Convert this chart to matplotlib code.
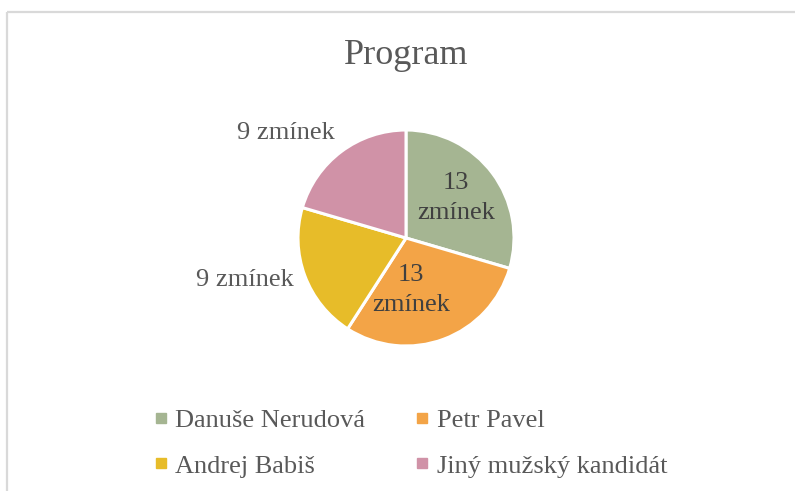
import numpy as np
import matplotlib
matplotlib.use("Agg")
import matplotlib.pyplot as plt
from matplotlib.lines import Line2D

# data
candidates = ["Danuše Nerudová", "Petr Pavel", "Andrej Babiš", "Jiný mužský kandidát"]
mentions = [13, 13, 9, 9]
labels = ["13\nzmínek", "13\nzmínek", "9 zmínek", "9 zmínek"]
colors = ["#A5B592", "#F3A447", "#E7BC29", "#D092A7"]

# label positions in pixels (x, y from top), like Excel's best fit
label_pos = [(456, 198), (411, 290), (245, 280), (286, 133)]
label_col = ["#404040", "#404040", "#595959", "#595959"]

W, H = 795, 491
plt.rcParams["font.family"] = ["Liberation Serif", "DejaVu Serif"]

fig = plt.figure(figsize=(W / 100, H / 100), dpi=100)
ax = fig.add_axes([0, 0, 1, 1])

wedges, _ = ax.pie(mentions, colors=colors, startangle=90, counterclock=False,
                   center=(406, H - 238), radius=108, frame=True,
                   wedgeprops=dict(edgecolor="white", linewidth=2.2))
ax.set_xlim(0, W)
ax.set_ylim(0, H)
ax.set_aspect("equal")
ax.axis("off")

# chart border (top and left visible)
ax.plot([7, W], [H - 11.5, H - 11.5], color="#D9D9D9", lw=1.6, solid_capstyle="butt")
ax.plot([7, 7], [H - 11.5, 0], color="#D9D9D9", lw=1.6, solid_capstyle="butt")

for lab, (x, y), c in zip(labels, label_pos, label_col):
    ax.text(x, H - y, lab, ha="center", va="center", fontsize=19, color=c,
            linespacing=1.45)

fig.text(406 / W, 1 - 55 / H, "Program", ha="center", va="center",
         fontsize=26, color="#595959")

# legend fills row by row, matplotlib fills by column
order = [0, 2, 1, 3]
handles = [Line2D([], [], marker="s", ls="none", markersize=7, color=colors[i]) for i in order]
fig.legend(handles, [candidates[i] for i in order], ncol=2, frameon=False, loc="center",
           bbox_to_anchor=(410 / W, 1 - 443 / H), fontsize=19,
           labelcolor="#595959", handlelength=0.6, handletextpad=0.25,
           columnspacing=1.85, labelspacing=0.85)

fig.savefig("out.png", dpi=100)
